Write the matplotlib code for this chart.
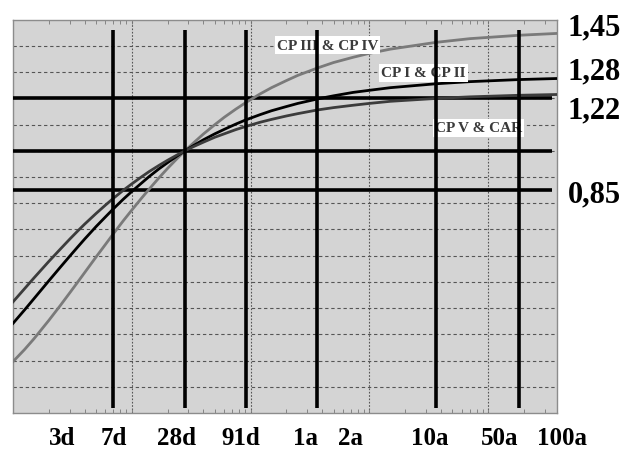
import matplotlib.pyplot as plt
from matplotlib.ticker import LogLocator, NullFormatter, NullLocator

# age in days and relative strength (fc(t)/fc28)
days = [1, 1.25, 1.5, 2, 2.5, 3, 3.5, 4, 5, 6,
        7, 8.5, 10, 12, 14, 17, 20, 24, 28, 33,
        40, 50, 60, 75, 91, 120, 150, 200, 250, 365,
        500, 730, 1000, 1500, 3650, 7000, 18250, 38000]
cp3_cp4 = [0.196, 0.242, 0.283, 0.353, 0.410, 0.458, 0.499, 0.535, 0.595, 0.643,
           0.684, 0.734, 0.774, 0.818, 0.854, 0.898, 0.933, 0.970, 1.0, 1.030,
           1.064, 1.100, 1.128, 1.159, 1.184, 1.217, 1.241, 1.268, 1.288, 1.316,
           1.337, 1.357, 1.372, 1.388, 1.414, 1.428, 1.441, 1.448]
cp1_cp2 = [0.342, 0.393, 0.436, 0.504, 0.556, 0.598, 0.633, 0.663, 0.711, 0.748,
           0.779, 0.816, 0.845, 0.876, 0.902, 0.932, 0.955, 0.980, 1.0, 1.020,
           1.042, 1.065, 1.082, 1.102, 1.118, 1.138, 1.153, 1.169, 1.181, 1.198,
           1.210, 1.223, 1.231, 1.241, 1.256, 1.264, 1.272, 1.276]
cp5_car = [0.424, 0.474, 0.515, 0.578, 0.625, 0.663, 0.694, 0.720, 0.761, 0.793,
           0.819, 0.850, 0.874, 0.900, 0.921, 0.945, 0.964, 0.984, 1.0, 1.016,
           1.033, 1.052, 1.065, 1.081, 1.093, 1.109, 1.120, 1.133, 1.142, 1.156,
           1.165, 1.174, 1.181, 1.189, 1.200, 1.206, 1.212, 1.215]

age_lines = [7, 28, 91, 365, 3650, 18250]
ref_levels = [1.2, 1.0, 0.85]

curve_names = ['CP III & CP IV', 'CP I & CP II', 'CP V & CAR']
name_x = [444, 2860, 8300]
name_y = [1.403, 1.298, 1.088]

end_labels = ['1,45', '1,28', '1,22', '0,85']
end_label_y = [1.445, 1.277, 1.128, 0.808]

age_labels = ['3d', '7d', '28d', '91d', '1a', '2a', '10a', '50a', '100a']
age_label_x = [2.6, 7.0, 24, 83, 290, 690, 3200, 12400, 42000]

fig = plt.figure(figsize=(6.26, 4.52), dpi=100)
ax = fig.add_axes([0.0208, 0.0841, 0.869, 0.8699])
ax.set_facecolor('#d4d4d4')
ax.set_xscale('log')
ax.set_xlim(1, 38000)
ax.set_ylim(0, 1.5)

# dashed grid
for v in [0.1 * i for i in range(1, 15)]:
    ax.axhline(v, color='#555555', lw=0.8, ls=(0, (3, 2.5)), zorder=1)
for d in [10, 100, 1000, 10000]:
    ax.axvline(d, color='#555555', lw=0.8, ls=(0, (1.5, 1.5)), zorder=1)

# thick reference lines
for lv in ref_levels:
    ax.plot([1, 34500], [lv, lv], color='black', lw=2.6, zorder=3,
            solid_capstyle='butt')
for d in age_lines:
    ax.plot([d, d], [0.02, 1.46], color='black', lw=2.6, zorder=5,
            solid_capstyle='butt')

ax.plot(days, cp3_cp4, color='#7a7a7a', lw=2.0, zorder=4)
ax.plot(days, cp1_cp2, color='black', lw=2.0, zorder=4)
ax.plot(days, cp5_car, color='#3c3c3c', lw=2.0, zorder=4)

for name, x, y in zip(curve_names, name_x, name_y):
    ax.text(x, y, name, ha='center', va='center', fontsize=11,
            family='Liberation Serif', fontweight='bold', color='#3a3a3a',
            zorder=4.5,
            bbox=dict(boxstyle='square,pad=0.15', fc='white', ec='none'))

for lab, y in zip(end_labels, end_label_y):
    ax.text(1.02, y, lab, transform=ax.get_yaxis_transform(), ha='left',
            va='baseline', fontsize=22, family='Liberation Serif',
            fontweight='bold', clip_on=False)

for lab, x in zip(age_labels, age_label_x):
    ax.text(x, -0.079, lab, transform=ax.get_xaxis_transform(),
            ha='center', va='baseline', fontsize=18,
            family='Liberation Serif', fontweight='bold', clip_on=False)

ax.xaxis.set_major_locator(NullLocator())
ax.xaxis.set_minor_locator(LogLocator(base=10, subs=range(1, 10), numticks=20))
ax.xaxis.set_minor_formatter(NullFormatter())
ax.tick_params(axis='x', which='minor', direction='in', length=3,
               top=True, bottom=True, color='#777777')
ax.yaxis.set_major_locator(NullLocator())
for s in ax.spines.values():
    s.set_color('#8c8c8c')
    s.set_linewidth(1.0)

fig.savefig('out.png', dpi=100)
